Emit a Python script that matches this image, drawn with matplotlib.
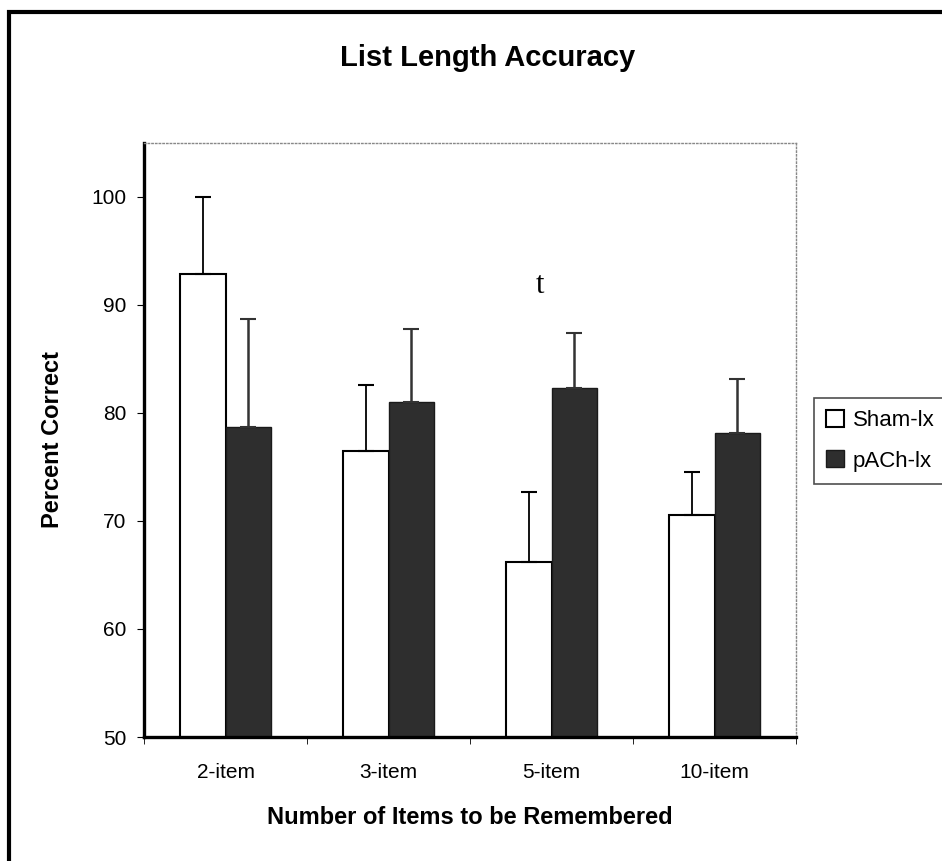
import matplotlib.pyplot as plt
import numpy as np
from matplotlib.patches import Rectangle

plt.rcParams['font.family'] = ['Liberation Sans', 'DejaVu Sans']

# data
categories = ['2-item', '3-item', '5-item', '10-item']
sham = [92.9, 76.5, 66.2, 70.6]
sham_err = [7.1, 6.1, 6.5, 3.9]
pach = [78.7, 81.0, 82.3, 78.1]
pach_err = [10.0, 6.8, 5.1, 5.0]
series_names = ['Sham-lx', 'pACh-lx']
y_ticks = [50, 60, 70, 80, 90, 100]

fig = plt.figure(figsize=(9.42, 8.61), dpi=100)
ax = fig.add_axes([0.153, 0.144, 0.692, 0.690])

x = np.arange(len(categories))
w = 0.28
ax.bar(x - w / 2, sham, w, color='white', edgecolor='black', linewidth=1.5,
       label=series_names[0], zorder=2)
ax.bar(x + w / 2, pach, w, color='#2e2e2e', edgecolor='#1a1a1a', linewidth=1.0,
       label=series_names[1], zorder=2)

# one-sided error bars, upward only
ax.errorbar(x - w / 2, sham, yerr=[np.zeros(4), sham_err], fmt='none',
            ecolor='black', elinewidth=1.3, capsize=6, capthick=1.5, zorder=3)
ax.errorbar(x + w / 2, pach, yerr=[np.zeros(4), pach_err], fmt='none',
            ecolor='#333333', elinewidth=1.8, capsize=6, capthick=1.5, zorder=3)

# significance marker over 5-item
ax.text(2 - 0.07, 91.8, 't', fontsize=22, family='Liberation Serif',
        ha='center', va='center')

ax.set_xlim(-0.5, 3.5)
ax.set_ylim(50, 105)
ax.set_yticks(y_ticks)
ax.set_xticks(x)
ax.set_xticklabels(categories)
ax.set_xticks(np.arange(-0.5, 4, 1), minor=True)
ax.tick_params(axis='x', which='major', length=0, pad=19, labelsize=15)
ax.tick_params(axis='x', which='minor', length=5, direction='out')
ax.tick_params(axis='y', length=5, direction='out', labelsize=15, pad=8)

for s in ['left', 'bottom']:
    ax.spines[s].set_linewidth(2.4)
for s in ['top', 'right']:
    ax.spines[s].set_linestyle(':')
    ax.spines[s].set_color('#888888')
    ax.spines[s].set_linewidth(1.0)

fig.text(53 / 942, 1 - 439 / 861, 'Percent Correct', fontsize=17,
         fontweight='bold', rotation=90, ha='center', va='center')
fig.text(470 / 942, 1 - 818 / 861, 'Number of Items to be Remembered',
         fontsize=17, fontweight='bold', ha='center', va='center')
fig.text(488 / 942, 1 - 58 / 861, 'List Length Accuracy', fontsize=21,
         fontweight='bold', ha='center', va='center')

leg = ax.legend(loc='upper left', bbox_to_anchor=(814 / 942, 1 - 398 / 861),
                bbox_transform=fig.transFigure, fontsize=16,
                frameon=True, fancybox=False, edgecolor='#222222',
                handlelength=0.8, handleheight=0.8, handletextpad=0.4,
                borderpad=0.55, labelspacing=0.85, borderaxespad=0)
leg.get_frame().set_linewidth(1.2)

# outer chart border (right and bottom run off the picture)
fig.patches.append(Rectangle((9 / 942, -0.05), 1.1, 1 - 12 / 861 + 0.05,
                             transform=fig.transFigure, fill=False,
                             edgecolor='black', linewidth=3))

fig.savefig('out.png', dpi=100)
